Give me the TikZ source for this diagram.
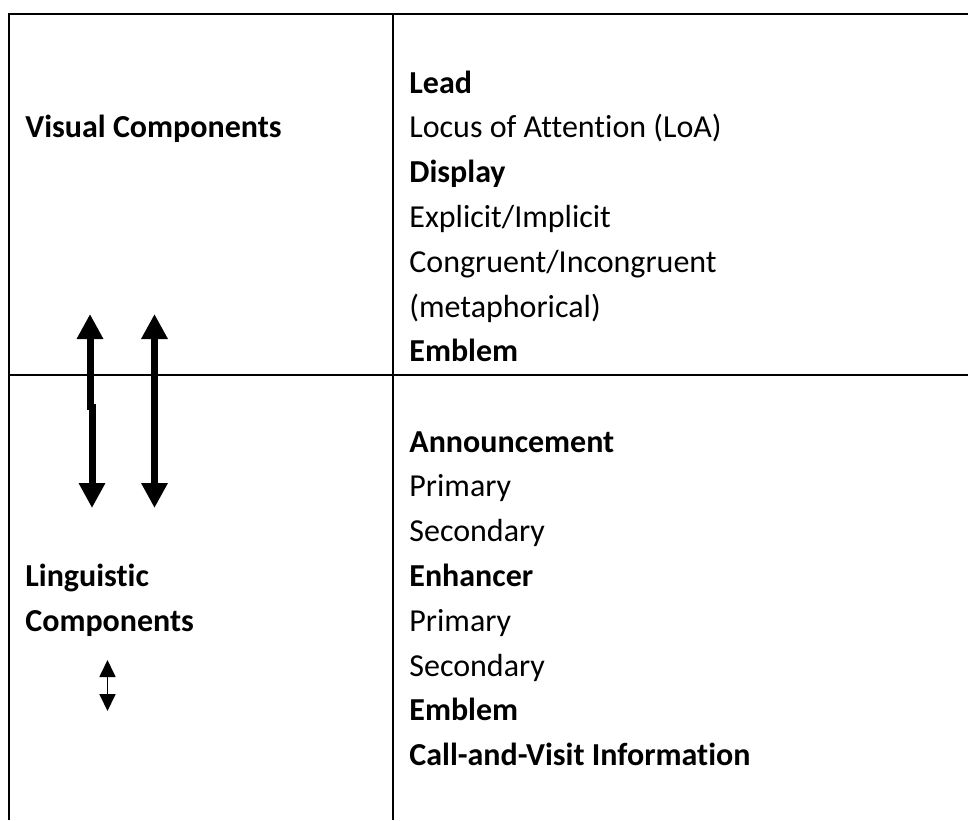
\documentclass[tikz,border=0pt]{standalone}
\usepackage{fontspec}
\setmainfont{Carlito}[Ligatures=CommonOff]
\usetikzlibrary{arrows.meta}
\tikzset{
    cell/.style={
        anchor=base west, inner sep=0pt,
        font=\fontsize{16}{19}\selectfont
    },
    frame/.style={line width=1pt},
    divider/.style={line width=0.8pt},
    bigarrow/.style={
        line width=3.5pt,
        -{Triangle[width=12.5pt,length=12.5pt]}
    },
    bigdouble/.style={
        line width=3.5pt,
        {Triangle[width=12.5pt,length=12.5pt]}-{Triangle[width=12.5pt,length=12.5pt]}
    },
    smallarrow/.style={
        line width=0.9pt,
        {Triangle[width=8pt,length=8.5pt]}-{Triangle[width=8pt,length=8.5pt]}
    }
}

\begin{document}
\begin{tikzpicture}[x=0.5pt, y=-0.5pt]

        \useasboundingbox (0,0) rectangle (968,820);

        % Table rules
        \coordinate (tl) at (9,14);
        \coordinate (tr) at (968,14);
        \coordinate (tm) at (393,14);
        \coordinate (bl) at (9,820);
        \coordinate (bm) at (393,820);
        \coordinate (ml) at (9,375);
        \coordinate (mr) at (968,375);
        \draw[frame] (bl) -- (tl) -- (tr);
        \draw[frame] (tm) -- (bm);
        \draw[divider] (ml) -- (mr);

        % Left column
        \node[cell] (vcomp) at (25,137.8) {\textbf{Visual Components}};
        \node[cell] (lcomp1) at (25,586.4) {\textbf{Linguistic}};
        \node[cell] (lcomp2) at (25,631.2) {\textbf{Components}};

        % Right column, upper cell
        \foreach \txt [count=\i from 0] in {{\textbf{Lead}}, {Locus of Attention (LoA)},
            {\textbf{Display}}, {Explicit/Implicit}, {Congruent/Incongruent},
            {(metaphorical)}, {\textbf{Emblem}}}
            \node[cell] (vis\i) at (409,93+44.8*\i) {\txt};

        % Right column, lower cell
        \foreach \txt [count=\i from 0] in {{\textbf{Announcement}}, {Primary},
            {Secondary}, {\textbf{Enhancer}}, {Primary}, {Secondary},
            {\textbf{Emblem}}, {\textbf{Call-and-Visit Information}}}
            \node[cell] (ling\i) at (409,452+44.8*\i) {\txt};

        % Arrows
        \coordinate (a1top) at (90,314);
        \coordinate (a1mid) at (90,410);
        \coordinate (a1jog) at (92,404);
        \coordinate (a1bot) at (92,508);
        \coordinate (a2top) at (154.5,314);
        \coordinate (a2bot) at (154.5,508);
        \coordinate (a3top) at (107.5,660);
        \coordinate (a3bot) at (107.5,711);

        \draw[bigarrow] (a1mid) -- (a1top);
        \draw[bigarrow] (a1jog) -- (a1bot);
        \draw[bigdouble] (a2top) -- (a2bot);
        \draw[smallarrow] (a3top) -- (a3bot);

\end{tikzpicture}
\end{document}
